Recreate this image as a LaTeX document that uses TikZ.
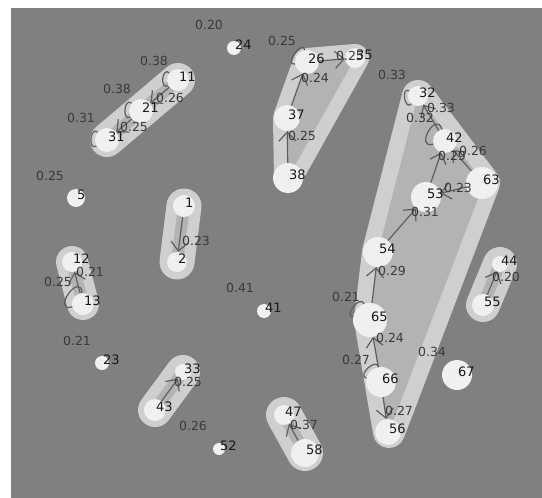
\documentclass[tikz,border=0pt]{standalone}
\usepackage{fontspec}
\setmainfont{DejaVu Sans}
\usepackage{xcolor}
\usepackage{tikz}
\usetikzlibrary{arrows.meta}
\definecolor{bggray}{HTML}{808080}
\definecolor{hullouter}{HTML}{CFCFCF}
\definecolor{hullinner}{HTML}{B3B3B3}
\definecolor{vtxfill}{HTML}{F0F0F0}
\definecolor{edgecol}{HTML}{5E5E5E}
\definecolor{wtext}{HTML}{3A3A3A}

\begin{document}
\begin{tikzpicture}[
  x=1pt,
  y=-1pt,
  vtx/.style={circle, fill=vtxfill, inner sep=0pt},
  num/.style={anchor=west, inner sep=0pt, text=black!90, font=\fontsize{13}{14}\selectfont, xshift=1pt, yshift=3.5pt},
  wt/.style={inner sep=0pt, text=wtext, font=\fontsize{12.5}{13}\selectfont},
  hull/.style={draw=hullouter, line join=round, line width=30pt},
  hullcore/.style={fill=hullinner},
  capsule/.style={draw=hullouter, line cap=round, line width=34pt},
  capcore/.style={draw=hullinner, line cap=round, line width=12pt},
  link/.style={draw=edgecol, line width=1.2pt, -{Straight Barb[length=9pt, width=17pt]}},
  selfloop/.style={draw=edgecol, line width=1.2pt}
]
\useasboundingbox (0,0) rectangle (542,498);
\fill[white] (0,0) rectangle (542,498);
\fill[bggray] (11,8) rectangle (542,498);

% cluster hulls
\draw[hull, line width=28pt] (307,62) -- (355,58) -- (288,178) -- (287,118) -- cycle;
\fill[hullcore] (307,62) -- (355,58) -- (288,178) -- (287,118) -- cycle;
\draw[hull, line width=32pt] (418,96) -- (484,183) -- (389,432) -- (370,320) -- (378,252) -- cycle;
\fill[hullcore] (418,96) -- (484,183) -- (389,432) -- (370,320) -- (378,252) -- cycle;
\draw[capsule] (178,80) -- (107,140);
\draw[capcore] (178,80) -- (107,140);
\draw[capsule, line width=35pt] (184,206) -- (177,262);
\draw[capcore] (184,206) -- (177,262);
\draw[capsule, line width=32pt] (72,262) -- (83,304);
\draw[capcore] (72,262) -- (83,304);
\draw[capsule] (183,372) -- (155,410);
\draw[capcore] (183,372) -- (155,410);
\draw[capsule, line width=36pt] (284,415) -- (305,453);
\draw[capcore] (284,415) -- (305,453);
\draw[capsule] (500,264) -- (483,305);
\draw[capcore] (500,264) -- (483,305);

% vertices
\node[vtx, minimum size=14pt] (v24) at (234,48) {};
\node[vtx, minimum size=24pt] (v26) at (307,62) {};
\node[vtx, minimum size=20pt] (v35) at (355,58) {};
\node[vtx, minimum size=26pt] (v37) at (287,118) {};
\node[vtx, minimum size=30pt] (v38) at (288,178) {};
\node[vtx, minimum size=20pt] (v32) at (418,96) {};
\node[vtx, minimum size=24pt] (v42) at (445,141) {};
\node[vtx, minimum size=32pt] (v63) at (482,183) {};
\node[vtx, minimum size=30pt] (v53) at (426,197) {};
\node[vtx, minimum size=30pt] (v54) at (378,252) {};
\node[vtx, minimum size=34pt] (v65) at (370,320) {};
\node[vtx, minimum size=30pt] (v66) at (381,382) {};
\node[vtx, minimum size=26pt] (v56) at (388,432) {};
\node[vtx, minimum size=30pt] (v67) at (457,375) {};
\node[vtx, minimum size=16pt] (v44) at (500,264) {};
\node[vtx, minimum size=22pt] (v55) at (483,305) {};
\node[vtx, minimum size=20pt] (v47) at (284,415) {};
\node[vtx, minimum size=28pt] (v58) at (305,453) {};
\node[vtx, minimum size=12pt] (v52) at (219,449) {};
\node[vtx, minimum size=16pt] (v33) at (183,372) {};
\node[vtx, minimum size=22pt] (v43) at (155,410) {};
\node[vtx, minimum size=14pt] (v23) at (102,363) {};
\node[vtx, minimum size=20pt] (v12) at (72,262) {};
\node[vtx, minimum size=22pt] (v13) at (83,304) {};
\node[vtx, minimum size=14pt] (v41) at (264,311) {};
\node[vtx, minimum size=22pt] (v1) at (184,206) {};
\node[vtx, minimum size=20pt] (v2) at (177,262) {};
\node[vtx, minimum size=18pt] (v5) at (76,198) {};
\node[vtx, minimum size=24pt] (v31) at (107,140) {};
\node[vtx, minimum size=24pt] (v21) at (141,111) {};
\node[vtx, minimum size=22pt] (v11) at (178,80) {};

% self loops
\draw[selfloop] (v26) to[out=100, in=190, min distance=12pt] (v26);
\draw[selfloop] (v32) to[out=150, in=230, min distance=10pt] (v32);
\draw[selfloop] (v42) to[out=105, in=195, min distance=20pt] (v42);
\draw[selfloop] (v13) to[out=95, in=195, min distance=22pt] (v13);
\draw[selfloop] (v65) to[out=110, in=170, min distance=10pt] (v65);
\draw[selfloop] (v66) to[out=100, in=165, min distance=10pt] (v66);
\draw[selfloop] (v31) to[out=140, in=210, min distance=10pt] (v31);
\draw[selfloop] (v21) to[out=140, in=210, min distance=10pt] (v21);
\draw[selfloop] (v11) to[out=140, in=210, min distance=10pt] (v11);

% weighted links
\draw[link] (v21) -- (v31);
\draw[link] (v11) -- (v21);
\draw[link] (v1) -- (v2);
\draw[link] (v13) -- (v12);
\draw[link] (v43) -- (v33);
\draw[link] (v58) -- (v47);
\draw[link] (v55) -- (v44);
\draw[link] (v26) -- (v35);
\draw[link] (v37) -- (v26);
\draw[link] (v38) -- (v37);
\draw[link] (v42) -- (v32);
\draw[link] (v53) -- (v42);
\draw[link] (v63) -- (v42);
\draw[link] (v63) -- (v53);
\draw[link] (v54) -- (v53);
\draw[link] (v65) -- (v54);
\draw[link] (v66) -- (v65);
\draw[link] (v66) -- (v56);

% vertex numbers
\node[num] (t24) at (v24.center) {24};
\node[num] (t26) at (v26.center) {26};
\node[num] (t35) at (v35.center) {35};
\node[num] (t37) at (v37.center) {37};
\node[num] (t38) at (v38.center) {38};
\node[num] (t32) at (v32.center) {32};
\node[num] (t42) at (v42.center) {42};
\node[num] (t63) at (v63.center) {63};
\node[num] (t53) at (v53.center) {53};
\node[num] (t54) at (v54.center) {54};
\node[num] (t65) at (v65.center) {65};
\node[num] (t66) at (v66.center) {66};
\node[num] (t56) at (v56.center) {56};
\node[num] (t67) at (v67.center) {67};
\node[num] (t44) at (v44.center) {44};
\node[num] (t55) at (v55.center) {55};
\node[num] (t47) at (v47.center) {47};
\node[num] (t58) at (v58.center) {58};
\node[num] (t52) at (v52.center) {52};
\node[num] (t33) at (v33.center) {33};
\node[num] (t43) at (v43.center) {43};
\node[num] (t23) at (v23.center) {23};
\node[num] (t12) at (v12.center) {12};
\node[num] (t13) at (v13.center) {13};
\node[num] (t41) at (v41.center) {41};
\node[num] (t1) at (v1.center) {1};
\node[num] (t2) at (v2.center) {2};
\node[num] (t5) at (v5.center) {5};
\node[num] (t31) at (v31.center) {31};
\node[num] (t21) at (v21.center) {21};
\node[num] (t11) at (v11.center) {11};

% loop weights
\node[wt] (w24) at (209,25) {0.20};
\node[wt] (w26) at (282,41) {0.25};
\node[wt] (w11) at (154,61) {0.38};
\node[wt] (w21) at (117,89) {0.38};
\node[wt] (w31) at (81,118) {0.31};
\node[wt] (w5) at (50,176) {0.25};
\node[wt] (w41) at (240,288) {0.41};
\node[wt] (w13) at (58,282) {0.25};
\node[wt] (w23) at (77,341) {0.21};
\node[wt] (w52) at (193,426) {0.26};
\node[wt] (w32) at (392,75) {0.33};
\node[wt] (w42) at (420,118) {0.32};
\node[wt] (w65) at (346,297) {0.21};
\node[wt] (w66) at (356,360) {0.27};
\node[wt] (w67) at (432,352) {0.34};

% link weights
\node[wt] (w21-31) at (134,127) {0.25};
\node[wt] (w11-21) at (170,98) {0.26};
\node[wt] (w1-2) at (196,241) {0.23};
\node[wt] (w13-12) at (90,272) {0.21};
\node[wt] (w43-33) at (188,382) {0.25};
\node[wt] (w58-47) at (304,425) {0.37};
\node[wt] (w55-44) at (506,277) {0.20};
\node[wt] (w26-35) at (350,56) {0.25};
\node[wt] (w37-26) at (315,78) {0.24};
\node[wt] (w38-37) at (302,136) {0.25};
\node[wt] (w42-32) at (441,108) {0.33};
\node[wt] (w53-42) at (452,156) {0.29};
\node[wt] (w63-42) at (473,151) {0.26};
\node[wt] (w63-53) at (458,188) {0.23};
\node[wt] (w54-53) at (425,212) {0.31};
\node[wt] (w65-54) at (392,271) {0.29};
\node[wt] (w66-65) at (390,338) {0.24};
\node[wt] (w66-56) at (399,411) {0.27};
\end{tikzpicture}
\end{document}
